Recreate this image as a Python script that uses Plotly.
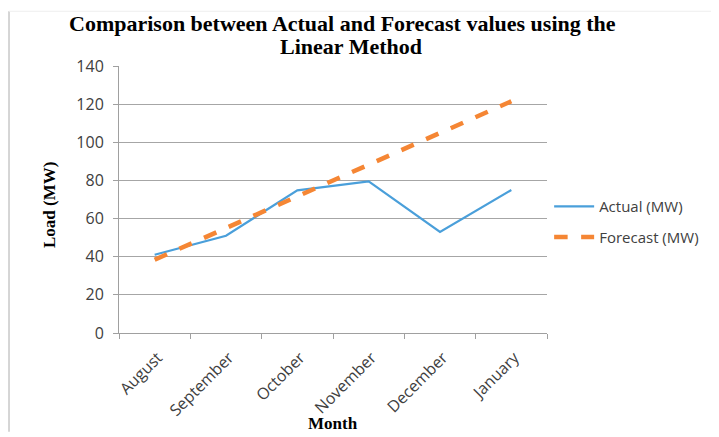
import plotly.graph_objects as go

months = ["August", "September", "October", "November", "December", "January"]
actual_mw = [41, 51, 74.8, 79.5, 53, 75]
forecast_mw = [38.4, 55, 71.6, 88.3, 104.9, 121.5]

tick_font = dict(family="Open Sans, Liberation Sans, sans-serif", size=16, color="#404040")
serif = "Liberation Serif, Times New Roman, serif"

fig = go.Figure()

fig.add_trace(go.Scatter(
    x=months, y=actual_mw, mode="lines", name="Actual (MW)", legendgroup="a",
    line=dict(color="#4A9FDA", width=2.2)
))
fig.add_trace(go.Scatter(
    x=months, y=forecast_mw, mode="lines", name="Forecast (MW)", legendgroup="f",
    line=dict(color="#F58634", width=4.5, dash="dash")
))

# page body has an 8px margin, so the figure is shrunk and shifted accordingly
fig.update_layout(
    width=711, height=429,
    margin=dict(l=111, r=172, t=58, b=104),
    paper_bgcolor="white", plot_bgcolor="white",
    showlegend=True,
    legend=dict(
        x=1.005, y=0.535, xanchor="left", yanchor="top",
        font=dict(family=tick_font["family"], size=15, color="#404040"),
        tracegroupgap=8, itemwidth=40,
    ),
    xaxis=dict(
        type="category", tickson="boundaries", ticks="outside", ticklen=5,
        tickcolor="#a0a0a0", showline=True, linecolor="#a0a0a0", linewidth=1,
        showgrid=False, tickangle=-45, tickfont=tick_font,
        ticklabelstandoff=8, ticklabelshift=3,
        range=[-0.5, 5.5], automargin=False,
    ),
    yaxis=dict(
        range=[0, 140], dtick=20, ticks="outside", ticklen=5, tickcolor="#a0a0a0",
        showline=True, linecolor="#a0a0a0", linewidth=1,
        gridcolor="#a6a6a6", gridwidth=1, zeroline=False, tickfont=tick_font,
        ticklabelstandoff=6, automargin=False,
    ),
)

# title lines and axis titles
fig.add_annotation(text="<b>Comparison between Actual and Forecast values using the</b>",
                   xref="paper", yref="paper", x=(334 - 111) / 428, y=1 + (58 - 15) / 267,
                   xanchor="center", yanchor="middle",
                   showarrow=False, font=dict(family=serif, size=22, color="black"))
fig.add_annotation(text="<b>Linear Method</b>",
                   xref="paper", yref="paper", x=(343 - 111) / 428, y=1 + (58 - 38) / 267,
                   xanchor="center", yanchor="middle",
                   showarrow=False, font=dict(family=serif, size=22, color="black"))
fig.add_annotation(text="<b>Month</b>", xref="paper", yref="paper",
                   x=(325 - 111) / 428, y=-(415 - 325) / 267,
                   xanchor="center", yanchor="middle",
                   showarrow=False, font=dict(family=serif, size=17, color="black"))
fig.add_annotation(text="<b>Load (MW)</b>", xref="paper", yref="paper", textangle=-90,
                   x=(42 - 111) / 428, y=(325 - 197) / 267,
                   xanchor="center", yanchor="middle",
                   showarrow=False, font=dict(family=serif, size=17, color="black"))

# chart frame edge on the left and top
fig.add_shape(type="line", xref="paper", yref="paper", x0=-0.257, x1=-0.257, y0=-0.37, y1=1.205,
              line=dict(color="#c8c8c8", width=1.5))
fig.add_shape(type="line", xref="paper", yref="paper", x0=-0.257, x1=1.4, y0=1.205, y1=1.205,
              line=dict(color="#eeeeee", width=1))

fig.write_html("out.html")
